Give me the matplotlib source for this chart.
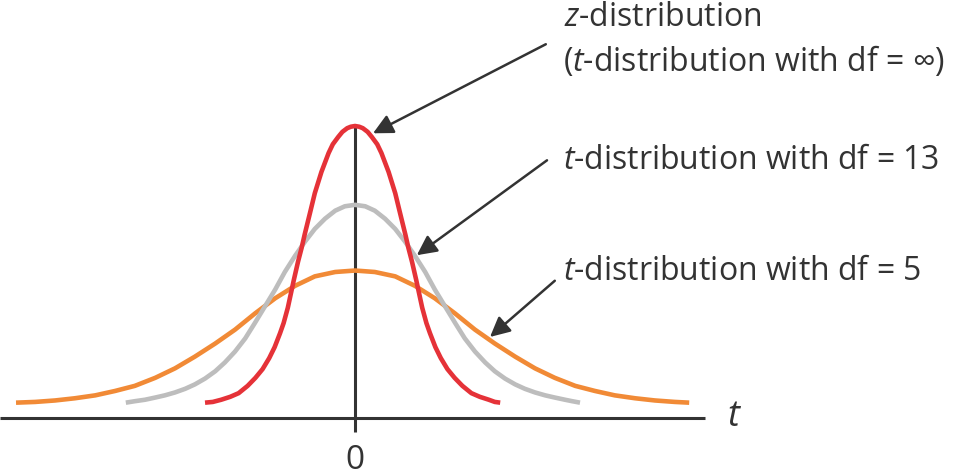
import matplotlib.pyplot as plt
import numpy as np

plt.rcParams['font.family'] = ['Open Sans', 'DejaVu Sans']
plt.rcParams['mathtext.fontset'] = 'custom'
plt.rcParams['mathtext.rm'] = 'Open Sans'
plt.rcParams['mathtext.it'] = 'Open Sans:italic'

# curves (t, height)
z_t = [-2.5, -2.37, -2.23, -2.08, -1.94, -1.79, -1.66, -1.54, -1.43, -1.34,
       -1.25, -1.19, -1.12, -1.07, -1.02, -0.95, -0.89, -0.84, -0.75, -0.67,
       -0.56, -0.44, -0.37, -0.28, -0.21, -0.13, -0.07, 0,
       0.07, 0.13, 0.21, 0.28, 0.37, 0.44, 0.56, 0.67, 0.75, 0.84,
       0.89, 0.95, 1.02, 1.07, 1.12, 1.19, 1.25, 1.34, 1.43, 1.54,
       1.66, 1.79, 1.94, 2.08, 2.23, 2.33, 2.42]
z_y = [0.021, 0.022, 0.025, 0.029, 0.034, 0.044, 0.055, 0.067, 0.082, 0.097,
       0.116, 0.130, 0.151, 0.170, 0.189, 0.214, 0.233, 0.251, 0.281, 0.308,
       0.337, 0.363, 0.375, 0.385, 0.392, 0.397, 0.399, 0.400,
       0.399, 0.397, 0.392, 0.385, 0.375, 0.363, 0.337, 0.308, 0.281, 0.251,
       0.233, 0.214, 0.189, 0.170, 0.151, 0.130, 0.116, 0.097, 0.082, 0.067,
       0.055, 0.044, 0.034, 0.029, 0.025, 0.022, 0.021]

t13_t = [-3.82, -3.67, -3.5, -3.33, -3.17, -3.0, -2.83, -2.67, -2.5, -2.33,
         -2.17, -2.0, -1.83, -1.67, -1.5, -1.33, -1.17, -1.0, -0.83, -0.67,
         -0.5, -0.33, -0.17, 0,
         0.17, 0.33, 0.5, 0.67, 0.83, 1.0, 1.17, 1.33, 1.5, 1.67,
         1.83, 2.0, 2.17, 2.33, 2.5, 2.67, 2.83, 3.0, 3.17, 3.33,
         3.5, 3.62, 3.75]
t13_y = [0.021, 0.023, 0.025, 0.028, 0.031, 0.035, 0.040, 0.046, 0.054, 0.064,
         0.076, 0.091, 0.109, 0.130, 0.153, 0.176, 0.200, 0.222, 0.242, 0.259,
         0.273, 0.284, 0.290, 0.292,
         0.290, 0.284, 0.273, 0.259, 0.242, 0.222, 0.200, 0.176, 0.153, 0.130,
         0.109, 0.091, 0.076, 0.064, 0.054, 0.046, 0.040, 0.035, 0.031, 0.028,
         0.025, 0.023, 0.021]

t5_t = [-5.65, -5.33, -5.0, -4.67, -4.33, -4.0, -3.67, -3.33, -3.0, -2.67,
        -2.33, -2.0, -1.67, -1.33, -1.0, -0.67, -0.33, 0,
        0.33, 0.67, 1.0, 1.33, 1.67, 2.0, 2.33, 2.67, 3.0, 3.33,
        3.67, 4.0, 4.33, 4.67, 5.0, 5.33, 5.57]
t5_y = [0.021, 0.022, 0.024, 0.027, 0.031, 0.037, 0.044, 0.055, 0.068, 0.084,
        0.102, 0.121, 0.143, 0.164, 0.181, 0.194, 0.200, 0.202,
        0.200, 0.194, 0.181, 0.164, 0.143, 0.121, 0.102, 0.084, 0.068, 0.055,
        0.044, 0.037, 0.031, 0.027, 0.024, 0.022, 0.021]

dark = '#333333'
red = '#E53238'
gray = '#BDBDBD'
orange = '#F18A36'

fig = plt.figure(figsize=(9.61, 4.75), dpi=100)
ax = fig.add_axes([0, 0, 1, 1])
ax.set_xlim(-5.917, 10.1)
ax.set_ylim(-0.0781, 0.5726)
ax.axis('off')

# axes
ax.plot([-5.92, 5.83], [0, 0], color=dark, lw=2.2, solid_capstyle='butt')
ax.plot([0, 0], [-0.019, 0.4], color=dark, lw=2.2, solid_capstyle='butt')

line = dict(lw=3.3, solid_capstyle='butt', solid_joinstyle='round')
ax.plot(t5_t, t5_y, color=orange, **line)
ax.plot(t13_t, t13_y, color=gray, **line)
ax.plot(z_t, z_y, color=red, **line)

ax.text(6.33, 0.002, '$\\mathit{t}$', fontsize=26, color=dark, ha='center', va='center')
ax.text(0, -0.058, '0', fontsize=24, color=dark, ha='center', va='center')

arrow = dict(arrowstyle='-|>', color=dark, lw=1.8, mutation_scale=30, shrinkA=0, shrinkB=0)
ax.annotate('', xy=(0.30, 0.39), xytext=(3.18, 0.512), arrowprops=arrow)
ax.annotate('', xy=(1.03, 0.223), xytext=(3.2, 0.353), arrowprops=arrow)
ax.annotate('', xy=(2.25, 0.111), xytext=(3.33, 0.188), arrowprops=arrow)

fs = 23
ax.text(3.49, 0.548, '$\\mathit{z}$-distribution', fontsize=fs, color=dark, ha='left', va='center')
ax.text(3.47, 0.489, '($\\mathit{t}$-distribution with df = \u221e)', fontsize=fs, color=dark, ha='left', va='center')
ax.text(3.47, 0.353, '$\\mathit{t}$-distribution with df = 13', fontsize=fs, color=dark, ha='left', va='center')
ax.text(3.47, 0.2, '$\\mathit{t}$-distribution with df = 5', fontsize=fs, color=dark, ha='left', va='center')

plt.savefig('out.png', dpi=100)
